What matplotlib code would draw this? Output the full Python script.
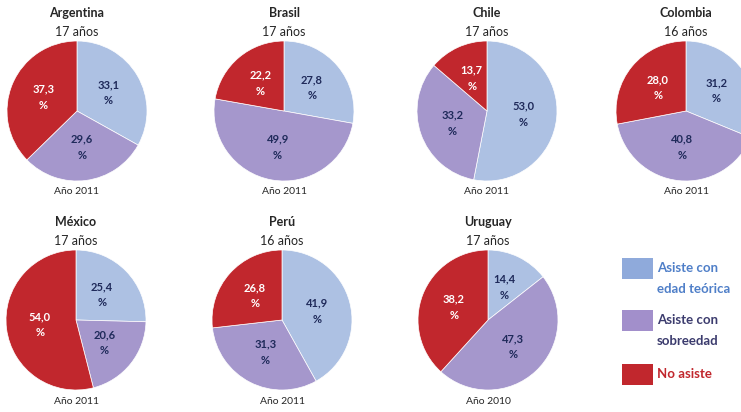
import matplotlib
matplotlib.use("Agg")
import matplotlib.pyplot as plt
from matplotlib.patches import Rectangle

plt.rcParams['font.family'] = ['Lato', 'DejaVu Sans']

# ---------- datos ----------
paises = ["Argentina", "Brasil", "Chile", "Colombia", "México", "Perú", "Uruguay"]
edades = ["17 años", "17 años", "17 años", "16 años", "17 años", "16 años", "17 años"]
anios = ["Año 2011", "Año 2011", "Año 2011", "Año 2011", "Año 2011", "Año 2011", "Año 2010"]
edad_teorica = [33.1, 27.8, 53.0, 31.2, 25.4, 41.9, 14.4]
sobreedad = [29.6, 49.9, 33.2, 40.8, 20.6, 31.3, 47.3]
no_asiste = [37.3, 22.2, 13.7, 28.0, 54.0, 26.8, 38.2]
categorias = ["Asiste con\nedad teórica", "Asiste con\nsobreedad", "No asiste"]
# ---------------------------

W, H = 741, 412
colores = ["#ADC1E3", "#A597CC", "#C1272D"]
leg_colores = ["#8FAADB", "#A28FCB", "#C1272D"]
txt_colores = ["#1F2A5A", "#1F2A5A", "white"]
leg_txt = ["#4F7FC8", "#3C3C6E", "#C1272D"]

# centros de los pies en pixeles (x, y desde arriba)
centros = [(77, 111), (284, 111), (487, 111), (686, 111),
           (76, 320), (282, 320), (488, 320)]
R = 70

fig = plt.figure(figsize=(W / 100, H / 100), dpi=100)
fig.patch.set_facecolor("white")

for i, pais in enumerate(paises):
    cx, cy = centros[i]
    ax = fig.add_axes([(cx - R) / W, 1 - (cy + R) / H, 2 * R / W, 2 * R / H])
    vals = [edad_teorica[i], sobreedad[i], no_asiste[i]]
    it = iter(vals)
    wedges, _, autotexts = ax.pie(
        vals, colors=colores, startangle=90, counterclock=False, radius=1,
        autopct=lambda p: ("%.1f\n%%" % next(it)).replace(".", ","),
        pctdistance=0.52,
        wedgeprops=dict(edgecolor="white", linewidth=0.5))
    for t, c in zip(autotexts, txt_colores):
        t.set_color(c)
        t.set_fontsize(8)
        t.set_fontweight("bold")
        t.set_linespacing(1.6)
    ax.set_xlim(-1, 1)
    ax.set_ylim(-1, 1)
    ax.set_aspect("equal")

    fig.text(cx / W, 1 - (cy - 98) / H, pais, ha="center", va="center",
             fontsize=9, fontweight="bold", color="#262626")
    fig.text(cx / W, 1 - (cy - 79) / H, edades[i], ha="center", va="center",
             fontsize=9, color="#262626")
    fig.text(cx / W, 1 - (cy + 81) / H, anios[i], ha="center", va="center",
             fontsize=7.5, color="#262626")

# leyenda (cuadros y textos a mano, como en la figura original)
leg_y = [258, 310, 364]
for k, cat in enumerate(categorias):
    y0 = leg_y[k]
    fig.patches.append(Rectangle((622 / W, 1 - (y0 + 21) / H), 31 / W, 21 / H,
                                 transform=fig.transFigure, facecolor=leg_colores[k],
                                 edgecolor="none"))
    fig.text(657 / W, 1 - (y0 + 10.5) / H, cat.split("\n")[0], ha="left", va="center",
             fontsize=9.5, fontweight="bold", color=leg_txt[k])
    if "\n" in cat:
        fig.text(657 / W, 1 - (y0 + 31) / H, cat.split("\n")[1], ha="left", va="center",
                 fontsize=9.5, fontweight="bold", color=leg_txt[k])

fig.savefig("out.png", dpi=100)
